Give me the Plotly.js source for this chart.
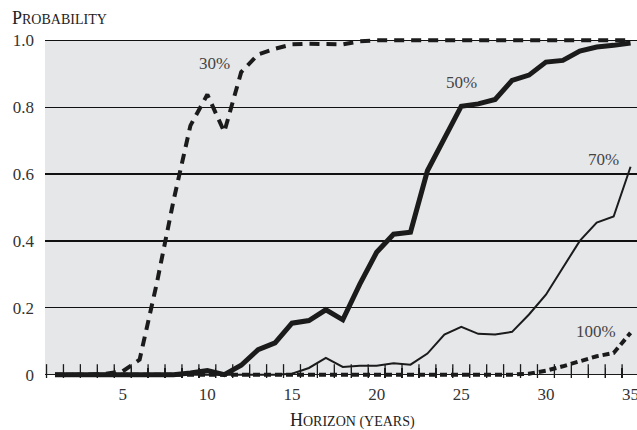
<!DOCTYPE html>
<html>
<head>
<meta charset="utf-8">
<script src="https://cdn.plot.ly/plotly-3.0.1.min.js"></script>
<style>html,body{margin:0;padding:0;background:#fff;}#chart{width:637px;height:430px;}</style>
</head>
<body>
<div id="chart"></div>
<script>
// Horizon in years
const years = [1,2,3,4,5,6,7,8,9,10,11,12,13,14,15,16,17,18,19,20,21,22,23,24,25,26,27,28,29,30,31,32,33,34,35];

// Probability series
const p30 = [0,0,0,0.003,0.01,0.045,0.27,0.52,0.745,0.838,0.726,0.905,0.958,0.975,0.988,0.99,0.99,0.988,0.997,1,1,1,1,1,1,1,1,1,1,1,1,1,1,1,1];
const p50 = [0,0,0,0,0,0,0,0,0.005,0.012,0,0.028,0.075,0.095,0.154,0.162,0.194,0.164,0.27,0.366,0.42,0.426,0.61,0.706,0.803,0.81,0.823,0.88,0.896,0.935,0.94,0.968,0.98,0.985,0.992];
const p70 = [0,0,0,0,0,0,0,0,0,0,0,0,0,0,0.003,0.02,0.05,0.023,0.027,0.027,0.034,0.03,0.063,0.12,0.143,0.122,0.12,0.128,0.18,0.239,0.32,0.40,0.455,0.473,0.622];
const p100 = [0,0,0,0,0,0,0,0,0,0,0,0,0,0,0,0,0,0,0,0,0,0,0,0,0,0,0,0,0.003,0.012,0.025,0.04,0.055,0.065,0.125];

const xTickVals = [5,10,15,20,25,30,35];
const xMinorVals = [0.5,1.5,2.5,3.5,4.5,5.5,6.5,7.5,8.5,9.5,10.5,11.5,12.5,13.5,14.5,15.5,16.5,17.5,18.5,19.5,20.5,21.5,22.5,23.5,24.5,25.5,26.5,27.5,28.5,29.5,30.5,31.5,32.5,33.5,34.5,35.5];
const yTickVals = [0,0.2,0.4,0.6,0.8,1.0];
const yTickText = ['0','0.2','0.4','0.6','0.8','1.0'];

const seriesLabels = ['30%','50%','70%','100%'];
const labelX = [10.4, 25.0, 33.4, 32.95];
const labelY = [0.931, 0.875, 0.645, 0.128];

const ink = '#1b1b1b';
const serif = '"Liberation Serif", "DejaVu Serif", serif';
const xRange = [0.41, 35.38];

const traces = [
  {x: years, y: p70, mode: 'lines', line: {color: ink, width: 2}},
  {x: years, y: p50, mode: 'lines', line: {color: ink, width: 5}},
  {x: years, y: p100, mode: 'lines', line: {color: ink, width: 4, dash: '7px,4px'}},
  {x: years, y: p30, mode: 'lines', xaxis: 'x2', line: {color: ink, width: 4, dash: '10px,7px'}},
  // small year tick marks sitting on the baseline (between the yearly points)
  {x: xMinorVals, y: xMinorVals.map(() => 0), mode: 'markers',
   marker: {symbol: 'line-ns', size: 15, color: ink, line: {color: ink, width: 1.3}}}
].map(t => Object.assign(t, {hoverinfo: 'skip', showlegend: false}));

const annotations = seriesLabels.map((s, i) => ({
  x: labelX[i], y: labelY[i], xref: 'x', yref: 'y', text: s, showarrow: false,
  font: {family: serif, size: 17, color: '#444'}
}));
annotations.push({
  x: 0, y: 1, xref: 'paper', yref: 'paper', xanchor: 'left', yanchor: 'middle', xshift: -35, yshift: 19,
  text: 'P<span style="font-size:14px">ROBABILITY</span>', showarrow: false,
  font: {family: serif, size: 18, color: '#222'}
});
annotations.push({
  x: 18.6, y: 0, xref: 'x', yref: 'paper', yanchor: 'middle', yshift: -42,
  text: 'H<span style="font-size:14px">ORIZON (YEARS)</span>', showarrow: false,
  font: {family: serif, size: 18, color: '#222'}
});

const layout = {
  width: 637, height: 430,
  margin: {l: 45, r: 0, t: 37, b: 52},
  paper_bgcolor: '#ffffff',
  plot_bgcolor: '#ffffff',
  showlegend: false,
  font: {family: serif, size: 17, color: '#333'},
  shapes: [{type: 'rect', xref: 'x', yref: 'y', x0: xRange[0], x1: xRange[1], y0: 0, y1: 1,
            fillcolor: '#e6e7e9', line: {width: 0}, layer: 'below'}],
  xaxis: {
    range: xRange, tickmode: 'array', tickvals: xMinorVals, ticks: 'inside',
    ticklen: 10, tickwidth: 1.3, tickcolor: ink, showticklabels: false,
    showgrid: false, zeroline: false, showline: false
  },
  xaxis2: {
    range: xRange, overlaying: 'x', anchor: 'y', side: 'bottom', matches: 'x',
    tickmode: 'array', tickvals: xTickVals, ticks: '',
    showgrid: false, zeroline: false, showline: false,
    tickfont: {family: serif, size: 17, color: '#333'},
    ticklabeloverflow: 'allow', ticklabelstandoff: 4
  },
  yaxis: {
    range: [-0.01, 1.01], tickmode: 'array', tickvals: yTickVals, ticktext: yTickText, ticks: '',
    showgrid: true, gridcolor: '#111', gridwidth: 1.3,
    zeroline: true, zerolinecolor: ink, zerolinewidth: 1, showline: false,
    tickfont: {family: serif, size: 17, color: '#333'},
    ticklabelstandoff: 10
  },
  annotations: annotations
};

Plotly.newPlot('chart', traces, layout, {staticPlot: true, displayModeBar: false});
</script>
</body>
</html>
